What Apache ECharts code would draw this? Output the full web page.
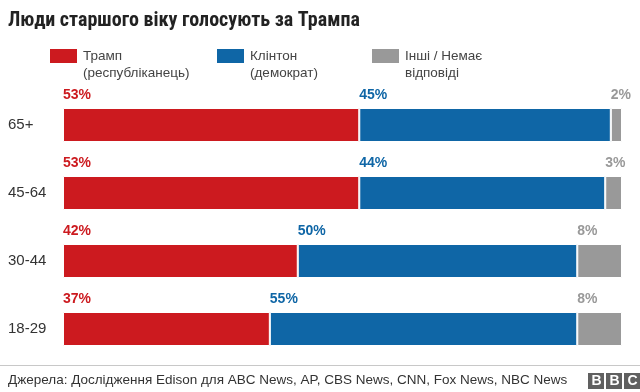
<!DOCTYPE html>
<html><head><meta charset="utf-8">
<script src="https://cdn.jsdelivr.net/npm/echarts@6/dist/echarts.min.js"></script>
<style>html,body{margin:0;padding:0;background:#fff}#c{width:640px;height:392px}</style>
</head><body><div id="c"></div>
<script>
const categories = ['65+', '45-64', '30-44', '18-29'];
const trump = [53, 53, 42, 37];
const clinton = [45, 44, 50, 55];
const other = [2, 3, 8, 8];
const seriesNames = ['Трамп\n(республіканець)', 'Клінтон\n(демократ)', 'Інші / Немає\nвідповіді'];
const colors = ['#cc1a1f', '#0f66a6', '#999999'];
const title = 'Люди старшого віку голосують за Трампа';
const source = 'Джерела: Дослідження Edison для ABC News, AP, CBS News, CNN, Fox News, NBC News';

const font = 'Liberation Sans, Arial, sans-serif';
const chart = echarts.init(document.getElementById('c'), null, {renderer: 'canvas'});
const datasets = [trump, clinton, other];
const legendX = [50, 217, 372];
const graphics = [];
seriesNames.forEach((n, i) => {
  graphics.push({type: 'rect', left: legendX[i], top: 49, shape: {width: 27, height: 14}, style: {fill: colors[i]}});
  graphics.push({type: 'text', left: legendX[i] + 33, top: 48, style: {text: n, font: '13.5px ' + font, fill: '#444', lineHeight: 17}});
});
graphics.push({type: 'line', shape: {x1: 0, y1: 365.5, x2: 640, y2: 365.5}, style: {stroke: '#c8c8c8', lineWidth: 1}});
graphics.push({type: 'text', left: 8, top: 373, style: {text: source, font: '13.5px ' + font, fill: '#333'}});
['B', 'B', 'C'].forEach((ch, i) => {
  const x = 588 + i * 18;
  graphics.push({type: 'rect', left: x, top: 373, shape: {width: 16, height: 16}, style: {fill: '#606060'}});
  graphics.push({type: 'text', left: x + 3.5, top: 374, style: {text: ch, font: 'bold 14px ' + font, fill: '#fff'}});
});

chart.setOption({
  animation: false,
  title: {text: title, left: 3, top: 6, textStyle: {fontFamily: '"Liberation Sans Narrow", "Roboto Condensed", "DejaVu Sans Condensed", sans-serif', fontSize: 20, fontWeight: 'bold', color: '#222'}},
  grid: {left: 63, right: 18, top: 91, bottom: 29, containLabel: false},
  xAxis: {type: 'value', min: 0, max: 100, show: false},
  yAxis: {type: 'category', data: categories, inverse: true,
    axisLine: {show: false}, axisTick: {show: false},
    axisLabel: {fontFamily: font, fontSize: 15, color: '#333', align: 'left', margin: 55}},
  graphic: graphics,
  series: datasets.map((d, i) => ({
    type: 'bar', stack: 'all', name: seriesNames[i], data: d, barWidth: 34,
    itemStyle: {color: colors[i], borderColor: '#fff', borderWidth: 1},
    label: {show: true, position: [0, -13], align: 'left', verticalAlign: 'middle',
      formatter: '{c}%', fontFamily: font, fontSize: 14, fontWeight: 'bold', color: colors[i]}
  }))
});
</script></body></html>
